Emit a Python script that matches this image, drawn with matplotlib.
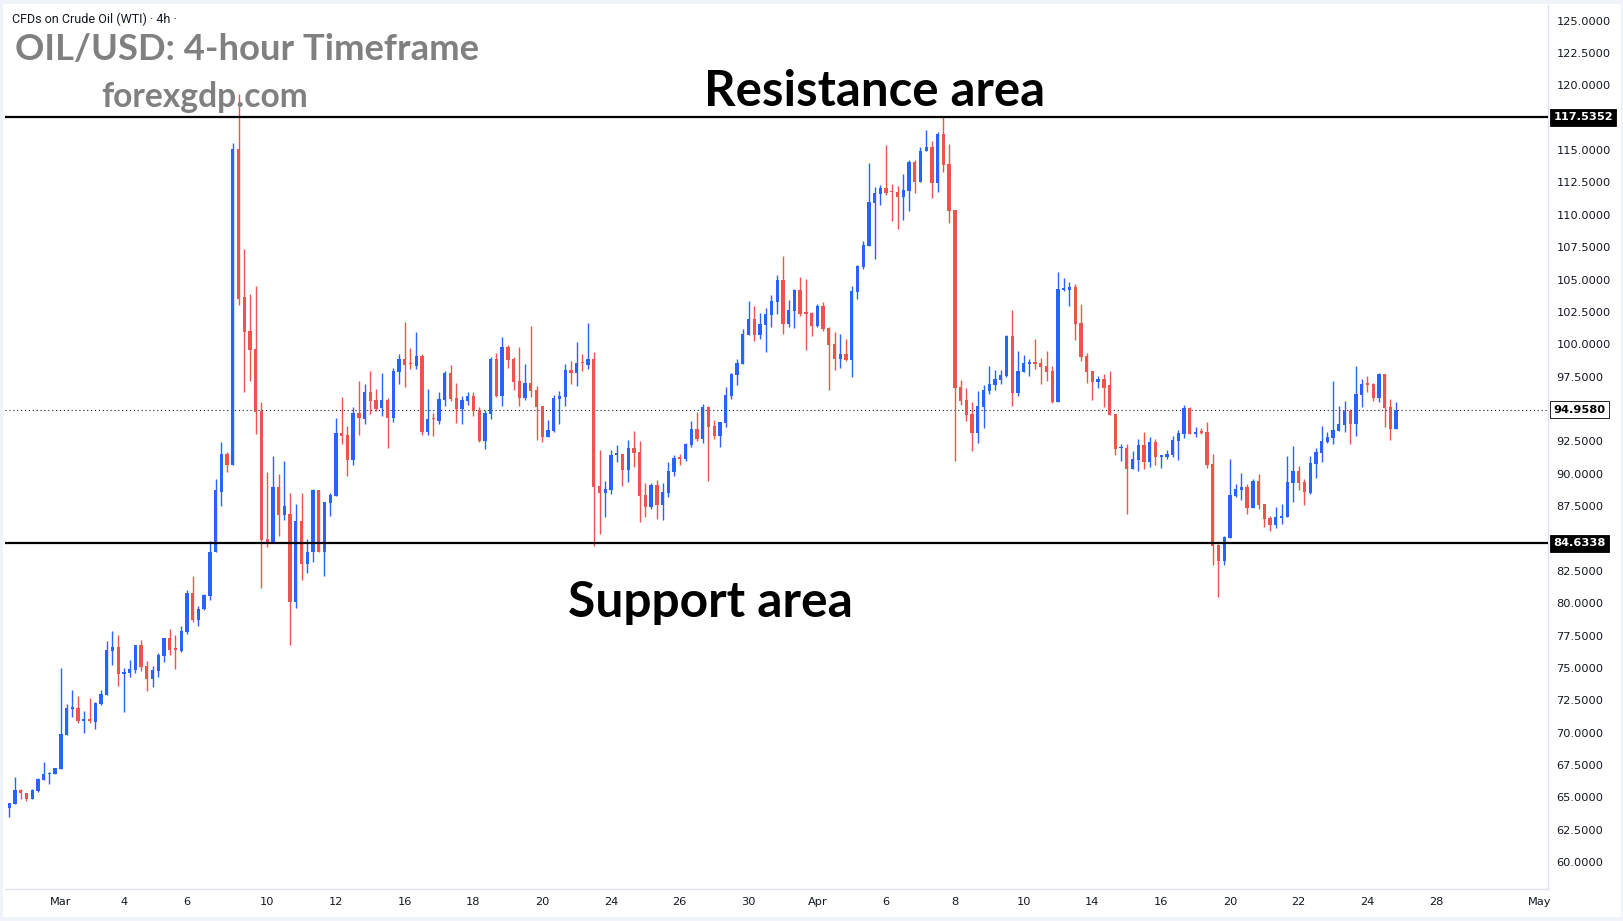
import matplotlib
matplotlib.use("Agg")
import matplotlib.pyplot as plt
import matplotlib.transforms as mtransforms
from matplotlib.patches import Rectangle
import numpy as np

# 4h candles, WTI CFD
opens = [64.22, 64.52, 65.58, 65.35, 64.91, 65.50, 66.38, 66.79, 66.84, 67.20,
         69.85, 71.86, 71.91, 70.93, 70.98, 70.83, 72.22, 72.92, 76.34, 76.60,
         74.56, 74.64, 74.87, 76.78, 75.16, 74.18, 74.80, 75.95, 77.32, 76.47,
         76.34, 77.80, 80.79, 78.73, 79.53, 80.59, 83.92, 88.62, 91.50, 90.71,
         115.08, 103.65, 101.00, 99.63, 94.84, 84.95, 84.75, 89.00, 86.83, 86.91,
         80.07, 86.37, 83.01, 83.92, 88.77, 83.92, 87.71, 88.28, 93.16, 92.99,
         91.08, 94.70, 94.26, 96.32, 95.70, 95.05, 95.70, 94.33, 97.89, 98.84,
         98.50, 98.35, 99.10, 93.25, 94.26, 94.10, 95.72, 97.78, 95.85, 95.03,
         95.65, 95.98, 94.93, 92.56, 94.64, 98.86, 95.98, 99.79, 98.86, 97.17,
         95.85, 97.01, 96.47, 95.23, 92.87, 93.33, 95.80, 95.95, 98.01, 97.81,
         98.58, 98.40, 98.86, 89.03, 88.54, 88.77, 91.45, 91.53, 90.32, 91.99,
         91.68, 88.36, 87.46, 89.13, 87.61, 88.54, 90.16, 91.25, 91.17, 92.25,
         93.46, 92.71, 95.16, 93.69, 92.94, 93.95, 96.03, 97.65, 98.50, 100.74,
         101.95, 100.74, 101.51, 102.29, 103.29, 104.96, 101.59, 102.57, 104.19, 102.44,
         102.44, 101.43, 102.95, 101.25, 100.02, 98.89, 99.22, 98.81, 104.06, 106.00,
         107.59, 110.93, 111.63, 112.06, 111.78, 111.78, 111.40, 111.86, 114.07, 112.55,
         114.90, 115.23, 112.48, 116.26, 113.92, 110.37, 96.70, 95.70, 94.61, 93.15,
         95.15, 96.39, 96.85, 97.24, 97.55, 100.64, 96.24, 97.86, 98.50, 98.55,
         98.55, 98.32, 97.94, 95.54, 104.19, 104.19, 104.42, 101.64, 99.09, 97.94,
         97.08, 97.32, 96.85, 94.61, 91.96, 91.99, 90.37, 91.06, 92.22, 90.91,
         92.45, 91.32, 91.29, 91.45, 92.53, 93.07, 95.08, 93.07, 93.22, 93.22,
         90.75, 84.52, 83.26, 85.04, 88.28, 88.75, 88.98, 87.36, 89.44, 87.67,
         86.58, 86.04, 86.61, 86.66, 89.29, 90.22, 89.37, 88.52, 90.76, 91.60,
         92.46, 92.76, 93.30, 93.77, 94.85, 93.85, 96.09, 96.93, 96.93, 95.85,
         97.71, 95.16, 93.46]
highs = [64.58, 66.58, 65.68, 65.35, 65.66, 66.48, 67.74, 66.97, 67.25, 75.00,
         72.22, 73.30, 72.84, 71.68, 72.68, 72.35, 73.30, 77.09, 77.86, 77.55,
         75.00, 75.62, 76.78, 77.16, 75.54, 75.16, 76.16, 77.32, 78.01, 77.55,
         78.24, 81.02, 82.10, 79.82, 80.73, 84.83, 89.56, 92.47, 91.70, 115.56,
         119.35, 107.32, 103.88, 104.47, 95.55, 90.14, 91.39, 89.96, 90.99, 88.48,
         87.68, 88.54, 84.98, 88.85, 88.77, 87.85, 88.48, 94.33, 95.92, 93.70,
         95.12, 97.18, 96.96, 97.94, 96.55, 97.78, 95.88, 98.14, 99.25, 101.72,
         99.71, 100.95, 99.25, 96.55, 94.69, 96.32, 97.94, 98.40, 97.01, 96.01,
         96.32, 96.32, 95.18, 94.93, 98.99, 99.33, 100.56, 99.95, 99.02, 99.79,
         98.48, 101.41, 96.78, 95.23, 94.15, 96.08, 96.39, 98.48, 98.71, 100.18,
         99.25, 101.64, 99.40, 91.84, 89.44, 91.84, 92.22, 91.53, 92.61, 93.30,
         92.53, 89.29, 89.29, 89.52, 89.29, 90.91, 91.45, 91.53, 92.38, 94.08,
         94.77, 95.39, 95.23, 94.15, 94.00, 96.70, 97.78, 98.86, 101.18, 103.34,
         102.96, 102.41, 102.80, 103.81, 105.35, 106.84, 103.42, 104.27, 105.22, 105.04,
         102.52, 103.11, 103.26, 101.33, 100.94, 100.79, 100.40, 104.50, 106.14, 107.97,
         114.00, 112.14, 112.30, 115.39, 112.37, 112.22, 113.15, 114.23, 114.23, 115.23,
         116.54, 115.69, 116.39, 117.62, 115.49, 110.37, 97.24, 96.62, 95.54, 96.39,
         96.85, 98.32, 98.01, 98.01, 100.71, 102.64, 99.48, 99.17, 98.86, 100.41,
         98.94, 99.48, 98.32, 105.58, 105.12, 104.81, 104.65, 103.11, 99.32, 97.94,
         97.55, 97.70, 97.93, 94.61, 92.30, 92.30, 91.76, 92.68, 93.22, 92.84,
         92.68, 91.45, 91.84, 92.92, 93.38, 95.31, 95.16, 93.61, 93.53, 93.99,
         91.53, 84.60, 85.19, 91.14, 89.21, 90.06, 89.21, 89.60, 89.98, 87.67,
         86.74, 87.43, 87.67, 91.37, 92.15, 90.60, 89.60, 91.37, 91.99, 93.69,
         93.23, 97.17, 95.24, 95.62, 95.00, 98.32, 97.32, 97.55, 97.01, 97.78,
         97.71, 95.78, 95.54]
lows = [63.52, 64.52, 64.86, 64.76, 64.91, 65.43, 66.38, 66.07, 66.79, 67.20,
        69.85, 71.24, 70.73, 70.00, 70.73, 70.32, 72.17, 72.92, 75.26, 73.61,
        71.63, 74.30, 74.64, 74.80, 73.25, 73.53, 74.33, 75.49, 76.00, 74.95,
        76.26, 77.65, 78.58, 78.22, 79.45, 80.24, 83.92, 87.48, 90.14, 90.71,
        103.02, 96.32, 97.18, 93.10, 81.16, 84.38, 84.75, 85.20, 86.43, 76.79,
        79.65, 81.78, 82.30, 83.15, 83.92, 82.07, 86.71, 88.28, 92.33, 89.85,
        90.71, 92.99, 93.84, 94.64, 94.87, 94.46, 92.02, 94.02, 96.96, 96.73,
        98.09, 98.09, 92.97, 93.02, 92.94, 93.84, 95.23, 95.65, 93.95, 93.84,
        95.31, 94.49, 92.45, 91.94, 94.26, 95.90, 95.23, 98.19, 96.50, 95.23,
        95.70, 95.95, 92.64, 92.48, 92.87, 93.25, 93.87, 95.23, 96.96, 96.78,
        97.94, 98.09, 84.45, 85.38, 86.69, 88.46, 90.94, 89.08, 89.39, 90.55,
        86.30, 86.69, 87.31, 86.53, 86.46, 88.23, 89.85, 90.70, 91.01, 92.09,
        92.56, 92.40, 89.47, 92.71, 92.09, 93.64, 95.80, 96.88, 98.50, 100.74,
        100.25, 100.41, 99.40, 101.36, 102.36, 100.82, 101.36, 101.28, 102.18, 99.58,
        100.66, 101.36, 101.05, 96.49, 98.04, 98.19, 98.73, 97.50, 103.52, 105.84,
        107.59, 106.61, 110.78, 111.55, 109.54, 108.92, 109.62, 110.31, 111.70, 112.55,
        114.90, 111.32, 111.78, 113.30, 109.39, 91.01, 95.31, 94.07, 91.78, 92.37,
        93.53, 96.16, 96.47, 96.93, 97.47, 95.23, 96.00, 97.86, 97.55, 98.09,
        96.93, 97.16, 95.46, 95.54, 104.11, 102.95, 100.33, 98.71, 97.01, 95.70,
        96.62, 95.15, 94.54, 91.45, 90.99, 86.89, 90.37, 90.21, 90.37, 90.52,
        90.68, 90.44, 91.14, 91.29, 91.06, 92.76, 93.07, 92.84, 93.07, 90.44,
        82.95, 80.50, 82.95, 85.04, 88.20, 87.97, 86.89, 87.36, 87.28, 85.89,
        85.58, 85.81, 86.12, 86.66, 87.82, 88.75, 87.59, 88.44, 89.68, 90.91,
        92.38, 92.30, 93.30, 93.23, 92.30, 92.92, 95.16, 96.32, 95.62, 95.54,
        93.61, 92.61, 93.46]
closes = [64.58, 65.58, 65.32, 64.91, 65.61, 66.43, 66.82, 66.92, 67.25, 69.90,
          71.91, 71.91, 70.93, 70.98, 70.93, 72.27, 72.97, 76.39, 76.60, 74.56,
          74.69, 74.92, 76.78, 75.10, 74.18, 74.85, 76.00, 77.32, 76.42, 76.42,
          77.86, 80.79, 78.71, 79.59, 80.67, 83.95, 88.71, 91.50, 90.71, 115.08,
          103.53, 100.94, 99.57, 94.78, 84.92, 84.75, 89.00, 86.83, 87.51, 80.07,
          86.37, 83.01, 83.95, 88.77, 83.92, 87.85, 88.37, 93.16, 92.93, 91.08,
          94.70, 94.27, 96.32, 95.65, 95.00, 95.70, 94.33, 97.94, 98.84, 98.43,
          98.45, 99.10, 93.25, 94.23, 94.21, 95.78, 97.78, 95.78, 95.03, 95.70,
          95.98, 94.87, 92.56, 94.69, 98.86, 95.98, 99.79, 98.81, 97.11, 95.85,
          97.01, 96.42, 95.18, 92.87, 93.38, 95.85, 96.01, 98.01, 97.81, 98.56,
          98.53, 98.86, 89.01, 88.54, 88.82, 91.45, 91.53, 90.32, 91.99, 91.63,
          88.31, 87.46, 89.13, 87.61, 88.59, 90.21, 91.22, 91.17, 92.30, 93.46,
          92.66, 95.16, 93.64, 92.94, 94.00, 96.08, 97.70, 98.55, 100.79, 101.95,
          100.74, 101.57, 102.34, 103.34, 104.96, 101.59, 102.64, 104.19, 102.36, 102.36,
          101.43, 102.95, 101.20, 99.97, 98.89, 99.22, 98.81, 104.11, 106.07, 107.66,
          110.98, 111.68, 112.06, 111.70, 111.73, 111.40, 111.91, 114.07, 112.55, 114.92,
          115.23, 112.48, 116.26, 113.87, 110.31, 96.65, 95.62, 94.54, 93.15, 95.23,
          96.47, 96.93, 97.32, 97.63, 100.64, 96.24, 97.93, 98.55, 98.55, 98.50,
          98.27, 97.86, 95.54, 104.27, 104.27, 104.42, 101.56, 99.01, 97.86, 97.08,
          97.32, 96.62, 94.54, 91.91, 92.02, 90.37, 91.14, 92.22, 90.91, 92.45,
          91.29, 91.37, 91.53, 92.61, 93.15, 95.08, 93.07, 93.22, 93.15, 90.68,
          84.45, 83.26, 85.12, 88.36, 88.82, 88.98, 87.36, 89.44, 87.59, 86.51,
          86.04, 86.66, 86.74, 89.37, 90.22, 89.29, 88.60, 90.83, 91.68, 92.53,
          92.82, 93.38, 93.85, 94.85, 93.85, 96.16, 96.93, 96.88, 95.85, 97.71,
          95.08, 93.46, 94.958]

# date labels and the bar index where each day starts
tick_pos = [9, 20, 31, 45, 57, 69, 81, 93, 105, 117, 129,
            141, 153, 165, 177, 189, 201, 213, 225, 237, 249, 267]
tick_lab = ["Mar", "4", "6", "10", "12", "16", "18", "20", "24", "26", "30",
            "Apr", "6", "8", "10", "14", "16", "20", "22", "24", "28", "May"]

resistance = 117.5352
support = 84.6338
last_price = 94.9580

BLUE = "#2962FF"
RED = "#EF5350"
TXT = "#131722"

W, H = 1624, 921
fig = plt.figure(figsize=(W / 100, H / 100), dpi=100, facecolor="#f0f3fa")
fig.patches.append(Rectangle((3 / W, 4 / H), (W - 6) / W, (H - 8) / H,
                             transform=fig.transFigure, facecolor="white",
                             edgecolor="none", zorder=-5))

ax = fig.add_axes([5 / W, 1 - 889 / H, (1548 - 5) / W, (889 - 5) / H])
ax.set_facecolor("white")

o = np.array(opens)
h = np.array(highs)
l = np.array(lows)
c = np.array(closes)
x = np.arange(len(o))
col = np.where(c >= o, BLUE, RED)

ax.vlines(x, l, h, colors=col, linewidth=1.0, zorder=2)
ax.bar(x, np.maximum(np.abs(c - o), 0.12), bottom=np.minimum(o, c), width=0.58,
       color=col, linewidth=0, zorder=3)

ax.axhline(resistance, color="black", lw=1.6, zorder=4)
ax.axhline(support, color="black", lw=1.6, zorder=4)
ax.axhline(last_price, color=TXT, lw=0.8, linestyle=(0, (1, 2.5)), zorder=1)

ax.set_xlim(-0.75, 268.5)
ax.set_ylim(57.93, 126.2)

for s in ["left", "top"]:
    ax.spines[s].set_visible(False)
for s in ["bottom", "right"]:
    ax.spines[s].set_color("#e0e3eb")
    ax.spines[s].set_linewidth(1)

tags = [resistance, support, last_price]
yt = [v for v in np.arange(60, 125.01, 2.5) if min(abs(v - t) for t in tags) > 1.2]
ax.yaxis.tick_right()
ax.set_yticks(yt)
ax.set_yticklabels(["%.4f" % v for v in yt])
ax.tick_params(axis="y", length=0, pad=6, labelsize=8.2, labelcolor=TXT)
ax.set_xticks(tick_pos)
ax.set_xticklabels(tick_lab)
ax.tick_params(axis="x", length=0, pad=6, labelsize=8.2, labelcolor=TXT)
for t in ax.get_xticklabels():
    t.set_family(["Liberation Sans Narrow", "DejaVu Sans"])

tr = mtransforms.blended_transform_factory(ax.transAxes, ax.transData)
for v, fc, tc in [(resistance, "black", "white"), (support, "black", "white"),
                  (last_price, "white", "black")]:
    ax.text(1.0035, v, "%.4f" % v, transform=tr, ha="left", va="center",
            fontsize=8.2, fontweight="bold", color=tc, clip_on=False, zorder=6,
            bbox=dict(boxstyle="square,pad=0.3", fc=fc, ec="black", lw=0.6))


def px(xp, yp):
    return xp / W, 1 - yp / H


fig.text(*px(12, 19), "CFDs on Crude Oil (WTI) · 4h ·", fontsize=9, color=TXT,
         va="center", family="Roboto")
fig.text(*px(15, 60), "OIL/USD: 4-hour Timeframe", fontsize=26.2, color="#808080",
         fontweight="bold", family="Lato", va="baseline")
fig.text(*px(101, 107), "forexgdp.com", fontsize=24.2, color="#808080",
         fontweight="bold", family="Lato", va="baseline")
fig.text(*px(704, 106), "Resistance area", fontsize=35.4, color="black",
         fontweight="bold", family="Lato", va="baseline")
fig.text(*px(568, 617), "Support area", fontsize=35.8, color="black",
         fontweight="bold", family="Lato", va="baseline")

fig.savefig("out.png", dpi=100, facecolor=fig.get_facecolor())
